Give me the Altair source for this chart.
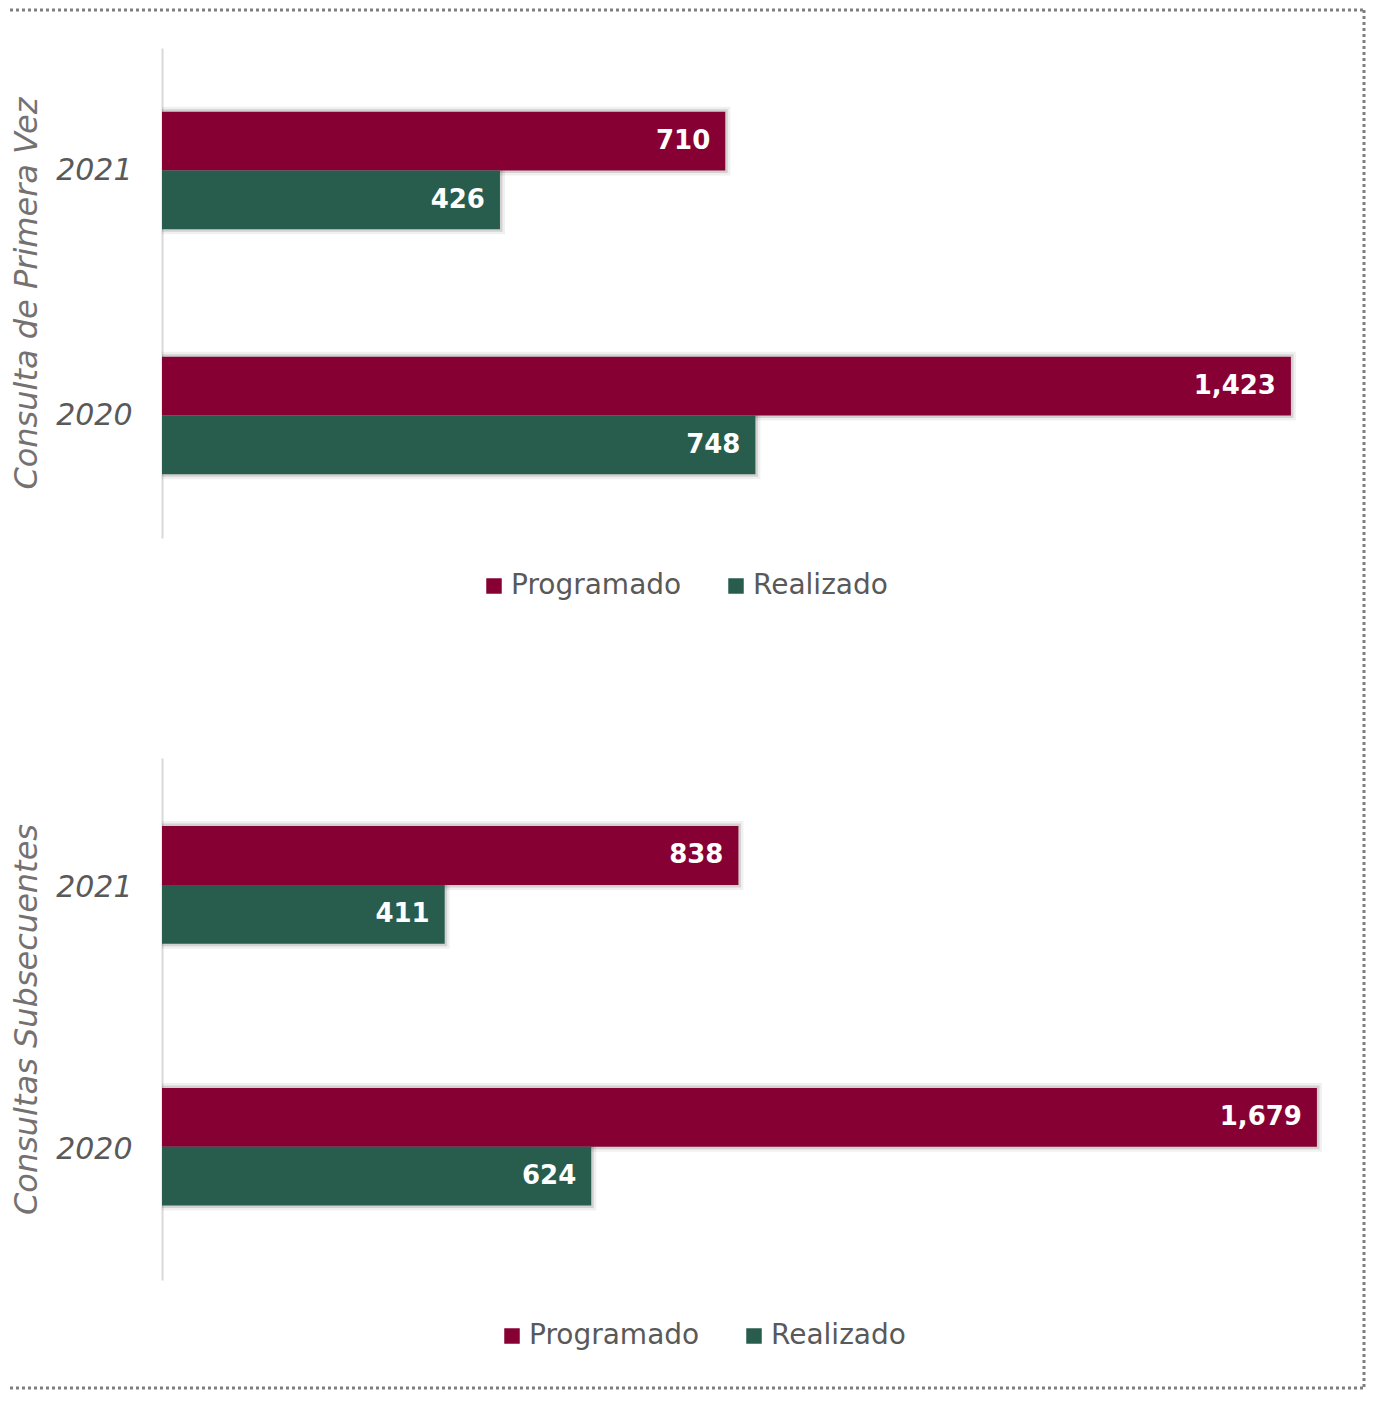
import altair as alt
import pandas as pd

years = ["2021", "2020"]
series = ["Programado", "Realizado"]
primera_prog = [710, 1423]
primera_real = [426, 748]
subs_prog = [838, 1679]
subs_real = [411, 624]
titles = ["Consulta de Primera Vez", "Consultas Subsecuentes"]
colors = ["#870034", "#285C4D"]

FONT = "DejaVu Sans"
W = 1190


def frame(prog, real):
    rows = []
    for y, p, r in zip(years, prog, real):
        rows.append({"year": y, "serie": series[0], "value": p})
        rows.append({"year": y, "serie": series[1], "value": r})
    return pd.DataFrame(rows)


def panel(df, title, xmax, height, pin, legend_x, legend_y, borders):
    xenc = alt.X("value:Q", scale=alt.Scale(domain=[0, xmax], nice=False), axis=None)
    yenc = alt.Y(
        "year:N",
        sort=years,
        scale=alt.Scale(paddingInner=pin, paddingOuter=0.26),
        axis=alt.Axis(
            title=title,
            titleFont=FONT,
            titleFontSize=32,
            titleFontStyle="italic",
            titleFontWeight="normal",
            titleColor="#767171",
            titleX=-136,
            titleY=height / 2,
            titleAngle=270,
            titleAlign="center",
            titleBaseline="middle",
            labelFont=FONT,
            labelFontSize=30,
            labelFontStyle="italic",
            labelColor="#595959",
            labelPadding=30,
            ticks=False,
            domainColor="#d9d9d9",
            domainWidth=2,
            grid=False,
        ),
    )
    yoff = alt.YOffset("serie:N", sort=series, scale=alt.Scale(paddingInner=0, paddingOuter=0))

    base = alt.Chart(df)
    shadow1 = base.mark_bar(
        fill="transparent", stroke="#000", strokeOpacity=0.06, strokeWidth=10, clip=True
    ).encode(x=xenc, y=yenc, yOffset=yoff)
    shadow2 = base.mark_bar(
        fill="transparent", stroke="#000", strokeOpacity=0.12, strokeWidth=5, clip=True
    ).encode(x=xenc, y=yenc, yOffset=yoff)
    bars = base.mark_bar().encode(
        x=xenc,
        y=yenc,
        yOffset=yoff,
        color=alt.Color(
            "serie:N",
            sort=series,
            scale=alt.Scale(domain=series, range=colors),
            legend=alt.Legend(
                title=None,
                orient="none",
                legendX=legend_x,
                legendY=legend_y,
                direction="horizontal",
                symbolType="square",
                symbolSize=240,
                symbolStrokeWidth=0,
                labelFont=FONT,
                labelFontSize=28,
                labelColor="#595959",
                labelLimit=400,
                columnPadding=40,
                labelOffset=3,
            ),
        ),
    )
    labels = base.mark_text(
        align="right", baseline="middle", dx=-15, color="white",
        font=FONT, fontSize=26, fontWeight="bold"
    ).encode(x=xenc, y=yenc, yOffset=yoff, text=alt.Text("value:Q", format=",d"))

    one = pd.DataFrame({"a": [0]})
    rules = []
    for (x1, x2, y1, y2) in borders:
        enc = dict(x=alt.value(x1), y=alt.value(y1))
        if x2 is not None:
            enc["x2"] = alt.value(x2)
        if y2 is not None:
            enc["y2"] = alt.value(y2)
        rules.append(
            alt.Chart(one).mark_rule(color="#7f7f7f", strokeWidth=3, strokeDash=[3, 3]).encode(**enc)
        )

    return alt.layer(shadow1, shadow2, bars, labels, *rules).properties(width=W, height=height)


p1 = panel(
    frame(primera_prog, primera_real), titles[0], 1500, 490, 0.52, 318, 524,
    [(-152, 1202, -38, None), (1202, None, -38, 1340)],
)
p2 = panel(
    frame(subs_prog, subs_real), titles[1], 1730, 522, 0.527, 336, 564,
    [(-152, 1202, 630, None)],
)

chart = (
    alt.vconcat(p1, p2, spacing=220, bounds="flush")
    .resolve_scale(x="independent", y="independent", color="independent")
    .resolve_legend(color="independent")
    .properties(padding=0, background="white")
    .configure_view(stroke=None)
)

chart.save("out.html", embed_options={"renderer": "svg", "actions": False})
